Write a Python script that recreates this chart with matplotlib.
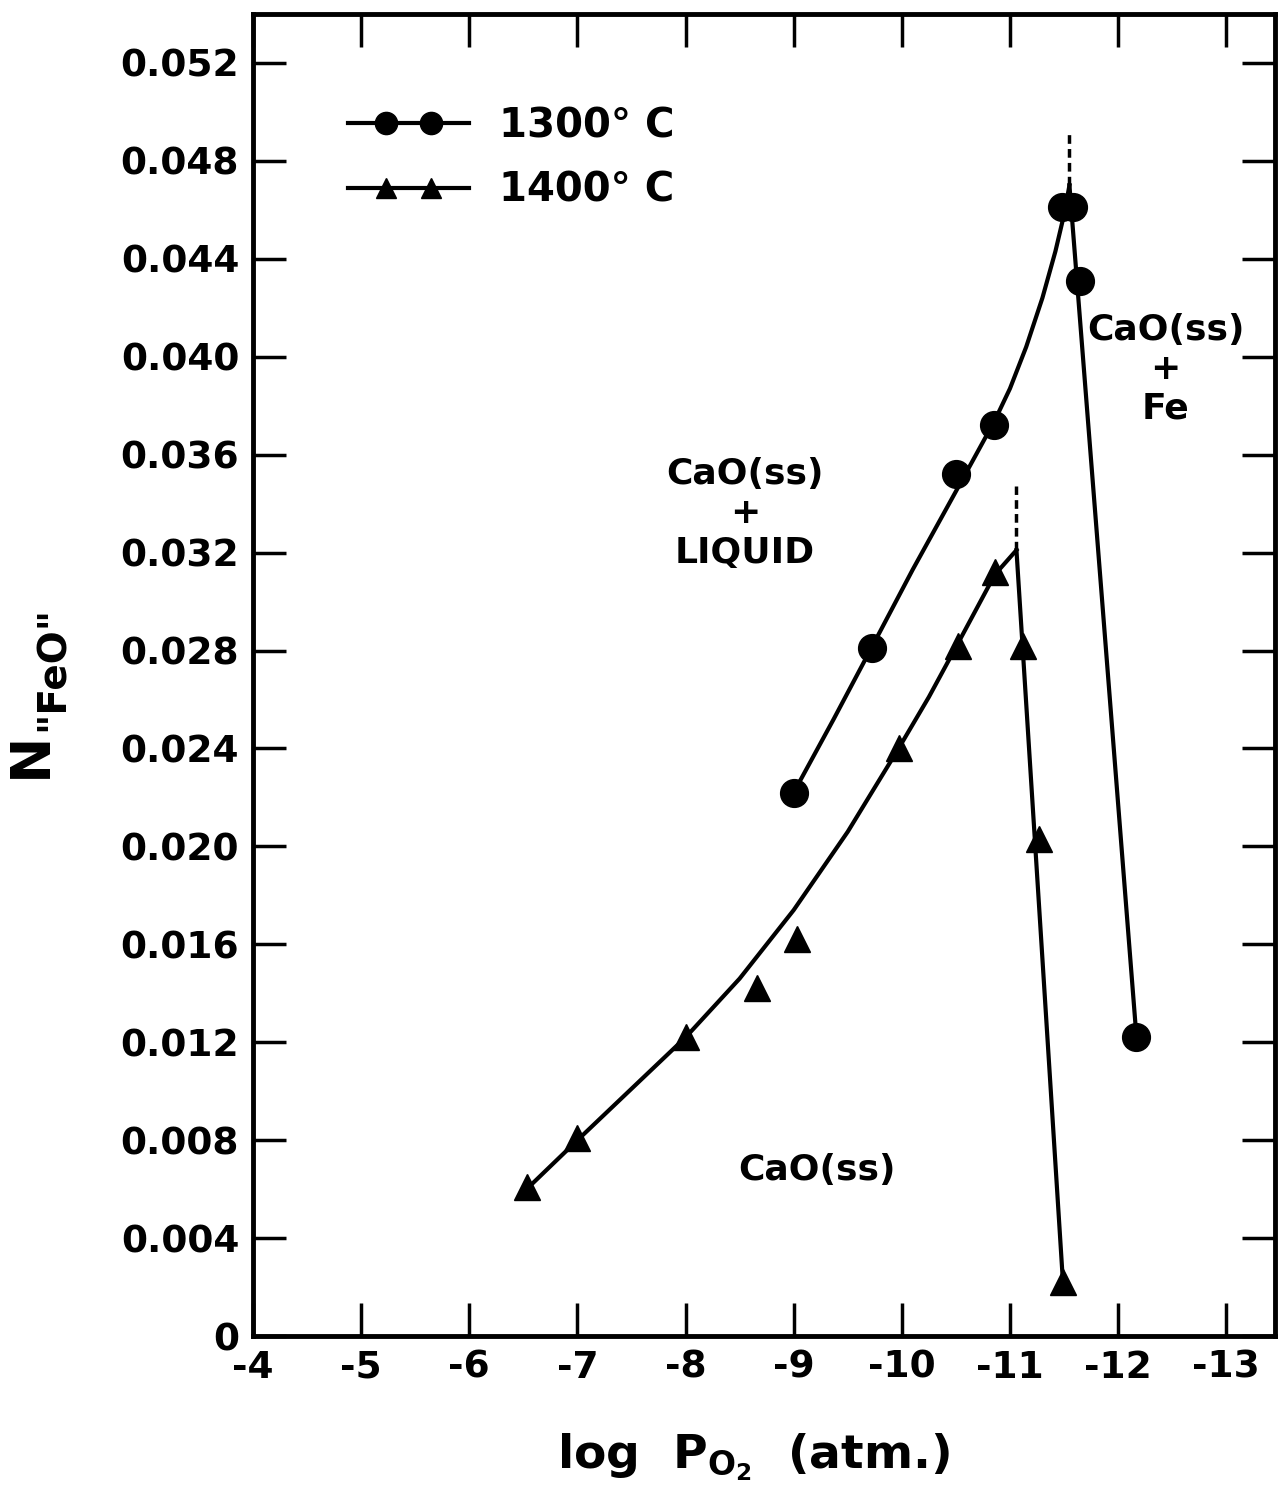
import matplotlib.pyplot as plt
from matplotlib.lines import Line2D
from matplotlib.legend_handler import HandlerLine2D, HandlerTuple

plt.rcParams['font.family'] = ['DejaVu Sans']
plt.rcParams['font.weight'] = 'bold'
plt.rcParams['axes.labelweight'] = 'bold'
plt.rcParams['mathtext.fontset'] = 'dejavusans'
plt.rcParams['mathtext.default'] = 'bf'

# measured points, 1300 C
T1300_X = [-9.0, -9.72, -10.5, -10.85, -11.48, -11.58, -11.65, -12.17]
T1300_Y = [0.0222, 0.0281, 0.0352, 0.0372, 0.0461, 0.0461, 0.0431, 0.0122]
# hand-drawn curve for 1300 C
T1300_CURVE_X = [-9.0, -9.37, -9.73, -10.1, -10.5, -10.86, -11.0, -11.15,
                 -11.3, -11.42, -11.5, -11.55]
T1300_CURVE_Y = [0.0222, 0.0252, 0.0282, 0.0313, 0.0345, 0.0374, 0.0387, 0.0404,
                 0.0424, 0.0443, 0.0458, 0.0470]
T1300_DROP_X = [-11.55, -12.17]
T1300_DROP_Y = [0.0470, 0.0122]
T1300_DASH_X = [-11.55, -11.55]
T1300_DASH_Y = [0.0470, 0.0491]

# measured points, 1400 C
T1400_X = [-6.53, -7.0, -8.0, -8.66, -9.03, -9.97, -10.52, -10.86, -11.12, -11.27, -11.49]
T1400_Y = [0.0061, 0.0081, 0.0122, 0.0142, 0.0162, 0.0240, 0.0282, 0.0312, 0.0282, 0.0203, 0.0022]
T1400_CURVE_X = [-6.53, -7.0, -7.5, -8.0, -8.5, -9.0, -9.5, -9.97, -10.25, -10.52, -10.86, -11.06]
T1400_CURVE_Y = [0.0060, 0.0080, 0.0101, 0.0122, 0.0146, 0.0174, 0.0206, 0.0240, 0.0261, 0.0283, 0.0311, 0.0321]
T1400_DROP_X = [-11.06, -11.49]
T1400_DROP_Y = [0.0321, 0.0022]
T1400_DASH_X = [-11.06, -11.06]
T1400_DASH_Y = [0.0321, 0.0347]

X_TICKS = [-4, -5, -6, -7, -8, -9, -10, -11, -12, -13]
X_TICK_LABELS = ['-4', '-5', '-6', '-7', '-8', '-9', '-10', '-11', '-12', '-13']
Y_TICKS = [0.0, 0.004, 0.008, 0.012, 0.016, 0.020, 0.024, 0.028,
           0.032, 0.036, 0.040, 0.044, 0.048, 0.052]
Y_TICK_LABELS = ['0', '0.004', '0.008', '0.012', '0.016', '0.020', '0.024',
                 '0.028', '0.032', '0.036', '0.040', '0.044', '0.048', '0.052']

LW = 3.0

fig = plt.figure(figsize=(12.87, 14.98), dpi=100)
ax = fig.add_axes([0.1966, 0.1081, 0.794, 0.8826])

# curves and boundaries
ax.plot(T1300_CURVE_X, T1300_CURVE_Y, color='black', lw=LW, solid_joinstyle='round')
ax.plot(T1300_DROP_X, T1300_DROP_Y, color='black', lw=LW)
ax.plot(T1300_DASH_X, T1300_DASH_Y, color='black', lw=2.5, dashes=(2.5, 1.5))
ax.plot(T1400_CURVE_X, T1400_CURVE_Y, color='black', lw=LW, solid_joinstyle='round')
ax.plot(T1400_DROP_X, T1400_DROP_Y, color='black', lw=LW)
ax.plot(T1400_DASH_X, T1400_DASH_Y, color='black', lw=2.5, dashes=(2.5, 1.5))

# data points
ax.plot(T1300_X, T1300_Y, 'o', color='black', ms=20)
ax.plot(T1400_X, T1400_Y, '^', color='black', ms=19)

# region labels
ax.text(-8.55, 0.0336, 'CaO(ss)\n+\nLIQUID', ha='center', va='center',
        fontsize=26, linespacing=1.2)
ax.text(-12.44, 0.0395, 'CaO(ss)\n+\nFe', ha='center', va='center',
        fontsize=26, linespacing=1.2)
ax.text(-9.22, 0.0068, 'CaO(ss)', ha='center', va='center', fontsize=26)

# legend: line running past the two markers
line_a = Line2D([], [], color='black', lw=LW)
mark_a = Line2D([], [], color='black', lw=0, marker='o', ms=16)
line_b = Line2D([], [], color='black', lw=LW)
mark_b = Line2D([], [], color='black', lw=0, marker='^', ms=15)
hmap = {
    line_a: HandlerLine2D(marker_pad=0),
    line_b: HandlerLine2D(marker_pad=0),
    mark_a: HandlerLine2D(marker_pad=0.95),
    mark_b: HandlerLine2D(marker_pad=0.95),
    tuple: HandlerTuple(ndivide=1, pad=0),
}
ax.legend([(line_a, mark_a), (line_b, mark_b)], ['1300° C', '1400° C'],
          handler_map=hmap, loc='upper left',
          bbox_to_anchor=(0.093, 0.93), frameon=False, numpoints=2,
          fontsize=29, handlelength=3.0, handletextpad=0.75,
          labelspacing=0.6, borderpad=0, borderaxespad=0)

ax.set_xlim(-4, -13.45)
ax.set_ylim(0, 0.054)
ax.set_xticks(X_TICKS)
ax.set_xticklabels(X_TICK_LABELS)
ax.set_yticks(Y_TICKS)
ax.set_yticklabels(Y_TICK_LABELS)
ax.tick_params(direction='in', length=24, width=2.5, top=True, right=True,
               labelsize=27, pad=10)
for s in ax.spines.values():
    s.set_linewidth(3.5)

ax.set_xlabel(r'log  P$_{\mathbf{O_2}}$  (atm.)', fontsize=34, fontweight='bold')
ax.xaxis.set_label_coords(0.49, -0.072)

# y label: N with subscript "FeO", rotated
ax.text(-0.217, 0.44, 'N', transform=ax.transAxes, rotation=90,
        ha='center', va='center', fontsize=40)
ax.text(-0.196, 0.505, '"FeO"', transform=ax.transAxes, rotation=90,
        ha='center', va='center', fontsize=28)

fig.savefig('out.png', dpi=100)
